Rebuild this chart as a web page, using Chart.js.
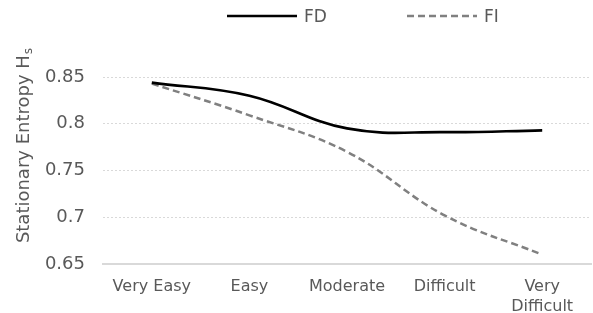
<!DOCTYPE html>
<html>
<head>
<meta charset="utf-8">
<script src="https://cdn.jsdelivr.net/npm/chart.js@4"></script>
<style>
  html, body { margin: 0; padding: 0; background: #fff; }
  #wrap { width: 593px; height: 313px; }
</style>
</head>
<body>
<div id="wrap"><canvas id="chart"></canvas></div>
<script>
// === Data ===
const categories = ['Very Easy', 'Easy', 'Moderate', 'Difficult', ['Very', 'Difficult']];
const fdValues = [0.844, 0.830, 0.795, 0.791, 0.793];
const fiValues = [0.843, 0.809, 0.770, 0.702, 0.660];
const yTicks = [0.65, 0.7, 0.75, 0.8, 0.85];

const FONT = 'DejaVu Sans';
const TEXT = '#595959';

// legend + y title drawn by hand (Excel-like spacing)
const extras = {
  id: 'extras',
  afterDraw(chart) {
    const ctx = chart.ctx;
    ctx.save();
    ctx.font = '17px ' + FONT;
    ctx.textBaseline = 'middle';
    ctx.textAlign = 'left';
    const items = [{ x: 227, ds: chart.data.datasets[0] }, { x: 407, ds: chart.data.datasets[1] }];
    items.forEach(it => {
      ctx.beginPath();
      ctx.setLineDash(it.ds.borderDash || []);
      ctx.strokeStyle = it.ds.borderColor;
      ctx.lineWidth = it.ds.borderWidth;
      ctx.moveTo(it.x, 16);
      ctx.lineTo(it.x + 70, 16);
      ctx.stroke();
      ctx.fillStyle = TEXT;
      ctx.fillText(it.ds.label, it.x + 77, 18);
    });

    // y axis title with subscript
    ctx.setLineDash([]);
    ctx.translate(24, 146);
    ctx.rotate(-Math.PI / 2);
    const main = 'Stationary Entropy H';
    ctx.font = '18px ' + FONT;
    const w1 = ctx.measureText(main).width;
    ctx.font = '12px ' + FONT;
    const w2 = ctx.measureText('s').width;
    const start = -(w1 + w2) / 2;
    ctx.font = '18px ' + FONT;
    ctx.fillText(main, start, 0);
    ctx.font = '12px ' + FONT;
    ctx.fillText('s', start + w1 + 1, 5);
    ctx.restore();
  }
};

new Chart(document.getElementById('chart'), {
  type: 'line',
  data: {
    labels: categories,
    datasets: [
      {
        label: 'FD',
        data: fdValues,
        borderColor: '#000000',
        borderWidth: 2.7,
        tension: 0.4,
        pointRadius: 0,
        fill: false
      },
      {
        label: 'FI',
        data: fiValues,
        borderColor: '#808080',
        borderWidth: 2.5,
        borderDash: [7, 4],
        tension: 0.4,
        pointRadius: 0,
        fill: false
      }
    ]
  },
  options: {
    responsive: true,
    maintainAspectRatio: false,
    animation: false,
    layout: { padding: { top: 77, right: 2, left: 0, bottom: 0 } },
    plugins: {
      legend: { display: false },
      tooltip: { enabled: false }
    },
    scales: {
      x: {
        offset: true,
        grid: { display: false, drawTicks: false, offset: true },
        border: { display: true, color: '#d9d9d9', width: 2 },
        ticks: {
          color: TEXT,
          padding: 13,
          maxRotation: 0,
          autoSkip: false,
          font: { family: FONT, size: 16, lineHeight: 1.25 }
        },
        afterFit(scale) { scale.height = 49; }
      },
      y: {
        min: 0.65,
        max: 0.85,
        afterBuildTicks(scale) { scale.ticks = yTicks.map(v => ({ value: v })); },
        grid: {
          drawTicks: false,
          color: ctx => ctx.index === 0 ? 'rgba(0,0,0,0)' : '#d9d9d9',
          lineWidth: 1
        },
        border: { display: false, dash: [2, 2] },
        ticks: {
          color: TEXT,
          padding: 18,
          font: { family: FONT, size: 18 },
          callback: v => String(+Number(v).toFixed(2))
        },
        afterFit(scale) { scale.width = 103; }
      }
    }
  },
  plugins: [extras]
});
</script>
</body>
</html>
